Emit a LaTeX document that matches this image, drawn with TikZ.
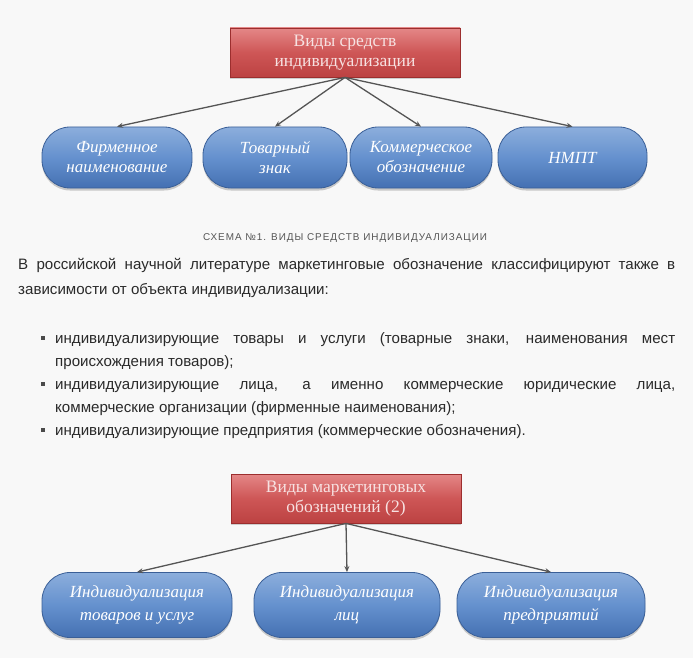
\documentclass[tikz,border=0pt]{standalone}
\usepackage{fontspec}
\setmainfont{Liberation Serif}
\newfontfamily\sansf{Liberation Sans}
\newfontfamily\capf[LetterSpace=10]{Liberation Sans}
\usetikzlibrary{shadows,arrows.meta}
\definecolor{bg}{HTML}{F8F8F8}
\definecolor{redtop}{HTML}{E48787}
\definecolor{redmid}{HTML}{CE5656}
\definecolor{redbot}{HTML}{BC4242}
\definecolor{redline}{HTML}{9C2E2E}
\definecolor{redtext}{HTML}{F7E2E2}
\definecolor{bluetop}{HTML}{8CAEDC}
\definecolor{bluemid}{HTML}{6591CE}
\definecolor{bluebot}{HTML}{4470B2}
\definecolor{blueline}{HTML}{3A5F97}
\definecolor{bodytext}{HTML}{2A2A2A}
\definecolor{captext}{HTML}{555555}
\definecolor{arrowc}{HTML}{555555}
\tikzset{
  redbox/.style={draw=redline, line width=0.8pt, top color=redtop, bottom color=redbot, middle color=redmid,
    minimum width=230pt, minimum height=49pt, inner sep=0pt, align=center, text=redtext,
    font=\fontsize{17.5}{20}\selectfont,
    drop shadow={shadow xshift=0pt, shadow yshift=-2pt, opacity=0.35}},
  pill/.style={draw=blueline, line width=0.8pt, top color=bluetop, bottom color=bluebot, middle color=bluemid,
    rounded corners=28pt, inner sep=0pt, align=center, text=white,
    font=\fontsize{17}{20}\selectfont\itshape,
    drop shadow={shadow xshift=0pt, shadow yshift=-2.5pt, opacity=0.4}},
  arr/.style={draw=arrowc, line width=1.3pt, -{Stealth[length=6pt,width=5pt]}},
  bodyline/.style={anchor=base west, inner sep=0pt, text=bodytext, font=\sansf\fontsize{15.1}{20}\selectfont},
  bullet/.style={fill=bodytext!85, minimum size=4.5pt, inner sep=0pt}
}
\begin{document}
\begin{tikzpicture}[x=1pt,y=-1pt]
\fill[bg] (0,0) rectangle (693,658);
\useasboundingbox (0,0) rectangle (693,658);

% top diagram
\node[redbox] (t1) at (345,52.5) {Виды средств\\индивидуализации};
\node[pill, minimum width=150pt, minimum height=61pt] (a1) at (117,157.5) {Фирменное\\наименование};
\node[pill, minimum width=144pt, minimum height=61pt] (a2) at (275,157.5) {Товарный\\знак};
\node[pill, minimum width=142pt, minimum height=61pt] (a3) at (421,157.5) {Коммерческое\\обозначение};
\node[pill, minimum width=149pt, minimum height=61pt] (a4) at (572.5,157.5) {НМПТ};
\foreach \n in {a1,a2,a3,a4} \draw[arr] (t1.south) -- (\n.north);

% caption
\node[text=captext, font=\capf\fontsize{9.9}{12}\selectfont, inner sep=0pt] (cap) at (345,238) {СХЕМА №1. ВИДЫ СРЕДСТВ ИНДИВИДУАЛИЗАЦИИ};

% paragraph
\node[bodyline] (p1) at (18,269) {\makebox[657pt][s]{В российской научной литературе маркетинговые обозначение классифицируют также в}};
\node[bodyline] (p2) at (18,294) {зависимости от объекта индивидуализации:};

% bullets
\node[bodyline] (l1) at (55,343) {\makebox[620pt][s]{индивидуализирующие товары и услуги (товарные знаки, наименования мест}};
\node[bodyline] (l2) at (55,366) {происхождения товаров);};
\node[bodyline] (l3) at (55,389) {\makebox[620pt][s]{индивидуализирующие лица, а именно коммерческие юридические лица,}};
\node[bodyline] (l4) at (55,412) {коммерческие организации (фирменные наименования);};
\node[bodyline] (l5) at (55,435) {индивидуализирующие предприятия (коммерческие обозначения).};
\node[bullet] (b1) at (43,338) {};
\node[bullet] (b2) at (43,384) {};
\node[bullet] (b3) at (43,430) {};

% bottom diagram
\node[redbox] (t2) at (346,498.5) {Виды маркетинговых\\обозначений (2)};
\node[pill, minimum width=190pt, minimum height=65pt, font=\fontsize{17}{23}\selectfont\itshape] (c1) at (137,605) {Индивидуализация\\товаров и услуг};
\node[pill, minimum width=186pt, minimum height=65pt, font=\fontsize{17}{23}\selectfont\itshape] (c2) at (347,605) {Индивидуализация\\лиц};
\node[pill, minimum width=188pt, minimum height=65pt, font=\fontsize{17}{23}\selectfont\itshape] (c3) at (551,605) {Индивидуализация\\предприятий};
\foreach \n in {c1,c2,c3} \draw[arr] (t2.south) -- (\n.north);
\end{tikzpicture}
\end{document}
